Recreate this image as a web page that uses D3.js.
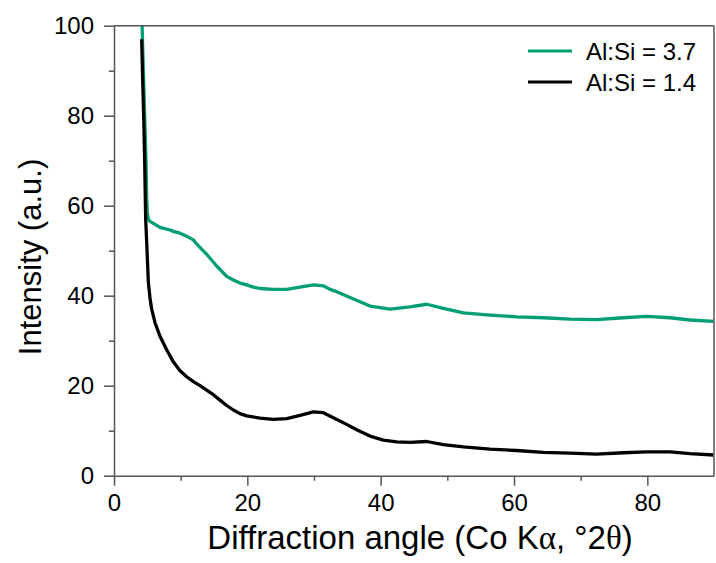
<!DOCTYPE html>
<html><head><meta charset="utf-8">
<script src="https://cdn.jsdelivr.net/npm/d3@7"></script>
<style>
body{margin:0;background:#fff;}
text{font-family:Arial,"Liberation Sans",sans-serif;fill:#000;}
</style></head>
<body><svg id="chart" width="716" height="563"></svg>
<script>
// Data (2θ in degrees, intensity in a.u.)
const angleHigh = [4.2,4.4,4.6,4.8,4.9,5.0,5.15,5.4,6.9,8.4,8.9,9.9,10.9,11.9,12.4,13.9,15.4,16.9,17.9,18.9,19.9,20.9,21.9,23.9,25.9,27.9,29.9,31.4,32.4,33.4,35.4,38.4,41.4,44.4,46.9,49.4,52.4,56.4,60.4,64.4,68.4,72.4,76.4,79.9,83.4,86.4,89.9];
const intensityHigh = [101,90,80,70,62,58.5,57,56.5,55.2,54.6,54.3,53.9,53.2,52.4,51.5,49.2,46.6,44.3,43.5,42.8,42.4,41.9,41.6,41.4,41.4,41.9,42.4,42.2,41.4,40.9,39.6,37.7,37.0,37.5,38.1,37.2,36.2,35.7,35.3,35.1,34.8,34.7,35.1,35.4,35.1,34.6,34.3];
const angleLow = [4.15,4.3,4.45,4.6,4.75,4.9,5.15,5.4,5.65,6.15,6.9,7.9,8.9,9.9,10.9,11.9,12.9,13.9,14.9,15.9,16.9,17.9,18.9,19.9,21.9,23.9,25.9,27.9,29.9,31.4,32.9,34.9,36.4,38.4,40.4,42.4,44.4,46.9,49.4,52.4,56.4,60.4,64.4,68.4,72.4,76.4,79.9,83.4,86.4,89.9];
const intensityLow = [97,88,80,70,57,52,43,39.5,37,34,31,28,25.3,23.3,22.0,20.9,20,19.0,18,16.8,15.6,14.6,13.8,13.3,12.8,12.5,12.7,13.4,14.2,14.0,12.9,11.4,10.2,8.8,7.9,7.5,7.4,7.6,6.9,6.4,5.9,5.6,5.2,5.0,4.8,5.1,5.3,5.3,4.9,4.6];
const seriesNames = ["Al:Si = 3.7","Al:Si = 1.4"];
const seriesColors = ["#009E73","#000000"];
const xTicks = [0,20,40,60,80];
const xMinorTicks = [10,30,50,70];
const yTicks = [0,20,40,60,80,100];
const yMinorTicks = [10,30,50,70,90];

const svg = d3.select("#chart");
const m = {left:114, right:715, top:25.7, bottom:475.7};
const x = d3.scaleLinear().domain([0,90]).range([m.left,m.left+600]);
const y = d3.scaleLinear().domain([0,100]).range([m.bottom,m.top]);
const axisColor = "#555";

svg.append("defs").append("clipPath").attr("id","clip")
  .append("rect").attr("x",m.left).attr("y",m.top).attr("width",x(90)-m.left).attr("height",m.bottom-m.top);

const line = d3.line().x(d=>x(d[0])).y(d=>y(d[1]));
const seriesData = [d3.zip(angleHigh,intensityHigh), d3.zip(angleLow,intensityLow)];
const g = svg.append("g").attr("clip-path","url(#clip)");
seriesData.forEach((s,i)=>{
  g.append("path").datum(s).attr("d",line).attr("fill","none")
   .attr("stroke",seriesColors[i]).attr("stroke-width",3.3).attr("stroke-linejoin","round");
});

// Frame top/right
svg.append("line").attr("x1",m.left).attr("x2",x(90)).attr("y1",m.top).attr("y2",m.top).attr("stroke",axisColor).attr("stroke-width",1.5);
svg.append("line").attr("x1",x(90)).attr("x2",x(90)).attr("y1",m.top).attr("y2",m.bottom).attr("stroke",axisColor).attr("stroke-width",1.5);

// X axis
svg.append("g").attr("transform",`translate(0,${m.bottom})`)
  .call(d3.axisBottom(x).tickValues(xTicks).tickSize(10).tickSizeOuter(0).tickPadding(8));
svg.append("g").attr("transform",`translate(0,${m.bottom})`)
  .call(d3.axisBottom(x).tickValues(xMinorTicks).tickSize(5).tickSizeOuter(0).tickFormat(""))
  .select(".domain").remove();
// Y axis
svg.append("g").attr("transform",`translate(${m.left},0)`)
  .call(d3.axisLeft(y).tickValues(yTicks).tickSize(10).tickSizeOuter(0).tickPadding(10));
svg.append("g").attr("transform",`translate(${m.left},0)`)
  .call(d3.axisLeft(y).tickValues(yMinorTicks).tickSize(5).tickSizeOuter(0).tickFormat(""))
  .select(".domain").remove();

svg.selectAll(".domain").attr("stroke",axisColor).attr("stroke-width",1.5);
svg.selectAll(".tick line").attr("stroke",axisColor).attr("stroke-width",1.5);
svg.selectAll(".tick text").attr("font-size",24).attr("font-family","Arial, 'Liberation Sans', sans-serif").attr("fill","#000");

// Axis titles
const xt = svg.append("text").attr("x",420).attr("y",549).attr("text-anchor","middle").attr("font-size",33);
xt.append("tspan").text("Diffraction angle (Co K");
xt.append("tspan").attr("font-family","'Liberation Serif', serif").text("α");
xt.append("tspan").text(", °2");
xt.append("tspan").attr("font-family","'Liberation Serif', serif").text("θ");
xt.append("tspan").text(")");

svg.append("text").attr("transform","translate(41,257) rotate(-90)").attr("text-anchor","middle")
  .attr("font-size",31).text("Intensity (a.u.)");

// Legend
seriesNames.forEach((n,i)=>{
  const ly = 51 + i*31;
  svg.append("line").attr("x1",528).attr("x2",572).attr("y1",ly).attr("y2",ly)
    .attr("stroke",seriesColors[i]).attr("stroke-width",3);
  svg.append("text").attr("x",586).attr("y",ly+8.5).attr("font-size",24).text(n);
});
</script></body></html>
